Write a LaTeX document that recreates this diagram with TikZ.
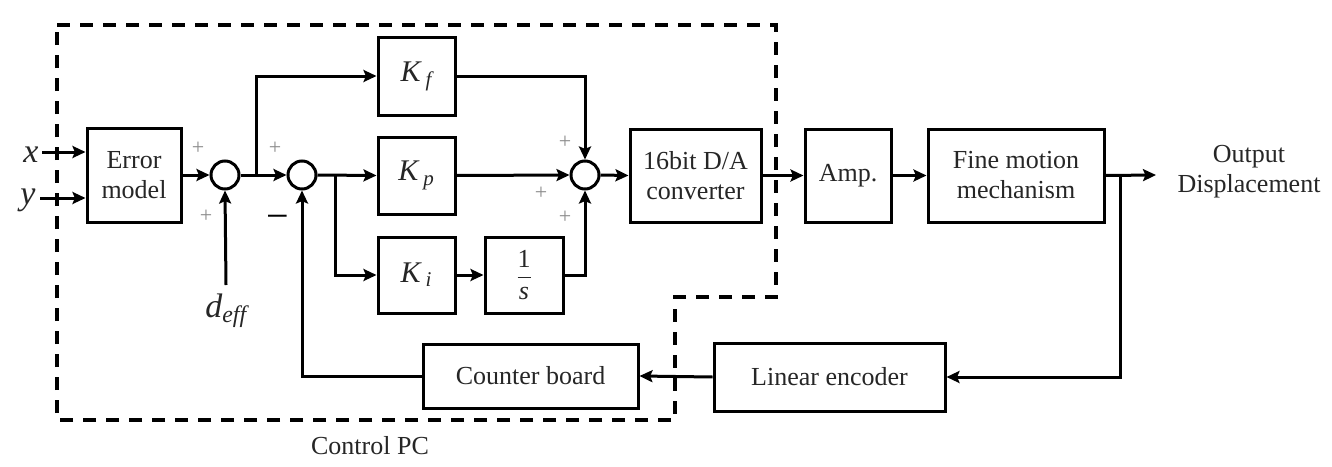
\documentclass[tikz,border=0pt]{standalone}
\usepackage{fontspec}
\setmainfont{Liberation Serif}
\usetikzlibrary{arrows.meta}
\begin{document}
\begin{tikzpicture}[x=0.5pt,y=-0.5pt,
  every node/.style={font=\fontsize{13}{15}\selectfont, text=black!85},
  blk/.style={draw=black, line width=1.5pt, inner sep=0pt, align=center},
  sumj/.style={draw=black, circle, line width=1.5pt, minimum size=14pt, inner sep=0pt},
  conn/.style={line width=1.5pt, -{Stealth[length=6.5pt,width=6pt,inset=1.2pt]}},
  wire/.style={line width=1.5pt},
  pm/.style={font=\fontsize{11}{11}\selectfont, text=black!45, inner sep=0pt},
  gain/.style={font=\fontsize{15}{15}\selectfont\itshape},
  biglbl/.style={font=\fontsize{17}{17}\selectfont\itshape, inner sep=0pt, text=black!85},
  pcbox/.style={line width=2pt, dash pattern=on 6.5pt off 5pt},
]
\useasboundingbox (0,0) rectangle (1332,466);

% Control PC boundary
\draw[pcbox] (57,25) -- (776,25) -- (776,297) -- (675,297) -- (675,420) -- (57,420) -- cycle;

% blocks
\node[blk, minimum width=47pt, minimum height=47pt] (err) at (134,175) {Error\\model};
\node[blk, minimum width=38.5pt, minimum height=39pt, gain] (kf) at (416.5,76) {K\,\textsubscript{f}};
\node[blk, minimum width=38.5pt, minimum height=38.5pt, gain] (kp) at (416.5,175.5) {K\,\textsubscript{p}};
\node[blk, minimum width=38.5pt, minimum height=38pt, gain] (ki) at (416.5,275) {K\,\textsubscript{i}};
\node[blk, minimum width=39pt, minimum height=38pt] (integ) at (524,275) {$\displaystyle\frac{\mbox{1}}{\mbox{\itshape s}}$};
\node[blk, minimum width=65.5pt, minimum height=46.5pt] (da) at (695.5,175.5) {16bit D/A\\converter};
\node[blk, minimum width=43pt, minimum height=46.5pt] (amp) at (848,175.5) {Amp.};
\node[blk, minimum width=88pt, minimum height=46.5pt] (fine) at (1016,175.5) {Fine motion\\mechanism};
\node[blk, minimum width=115.5pt, minimum height=34pt] (le) at (829.5,377) {Linear encoder};
\node[blk, minimum width=107.5pt, minimum height=32pt] (cb) at (530.5,376) {Counter board};

% summing junctions
\node[sumj] (s1) at (225,175) {};
\node[sumj] (s2) at (302,175) {};
\node[sumj] (s3) at (585,175) {};

% labels
\node[biglbl, anchor=base] (xl) at (31,162) {x};
\node[biglbl, anchor=base] (yl) at (28,204) {y};
\node[biglbl, anchor=base west] (dl) at (205,317) {d\textsubscript{eff}};
\node[align=center] (outl) at (1249,172) {Output\\Displacement};
\node (pc) at (370,446) {Control PC};

\node[pm] (p1) at (198,148) {+};
\node[pm] (p2) at (206,216) {+};
\node[pm] (p3) at (275,148) {+};
\node[font=\fontsize{20}{20}\selectfont, text=black, inner sep=0pt] (m1) at (278,222) {−};
\node[pm] (p4) at (565,142) {+};
\node[pm] (p5) at (541,193) {+};
\node[pm] (p6) at (565,217) {+};

% coordinates
\coordinate (xs) at (42,152);
\coordinate (ys) at (40,198);
\coordinate (deff) at (226,285);
\coordinate (b1) at (256,175);
\coordinate (b2) at (335,175);
\coordinate (out) at (1156,175);
\coordinate (b3) at (1120,175);

% connectors
\draw[conn] (xs) -- (xs -| err.west);
\draw[conn] (ys) -- (ys -| err.west);
\draw[conn] (err.east) -- (s1.west);
\draw[conn] (deff) -- (s1.south);
\draw[conn] (s1.east) -- (s2.west);
\draw[conn] (b1) |- (kf.west);
\draw[conn] (s2.east) -- (kp.west);
\draw[conn] (b2) |- (ki.west);
\draw[conn] (kf.east) -| (s3.north);
\draw[conn] (kp.east) -- (s3.west);
\draw[conn] (ki.east) -- (integ.west);
\draw[conn] (integ.east) -| (s3.south);
\draw[conn] (s3.east) -- (da.west);
\draw[conn] (da.east) -- (amp.west);
\draw[conn] (amp.east) -- (fine.west);
\draw[conn] (fine.east) -- (out);
\draw[conn] (b3) |- (le.east);
\draw[conn] (le.west) -- (cb.east);
\draw[conn] (cb.west) -| (s2.south);
\end{tikzpicture}
\end{document}
